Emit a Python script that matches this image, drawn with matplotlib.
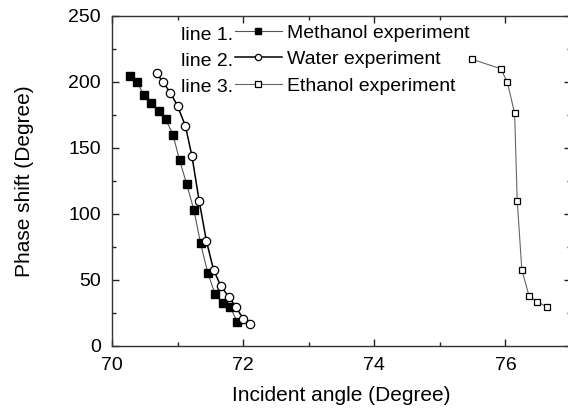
import matplotlib
matplotlib.use("Agg")
import matplotlib.pyplot as plt
from matplotlib.ticker import MultipleLocator

plt.rcParams['font.family'] = ['Liberation Sans', 'DejaVu Sans']

methanol_x = [70.27, 70.38, 70.49, 70.59, 70.71, 70.82, 70.93, 71.03,
              71.14, 71.25, 71.35, 71.46, 71.57, 71.69, 71.80, 71.91]
methanol_y = [204.5, 199.5, 189.7, 183.6, 177.5, 171.5, 159.8, 140.5,
              122.3, 102.6, 77.6, 55.3, 39.2, 32.1, 29.3, 18.2]

water_x = [70.68, 70.78, 70.89, 71.00, 71.12, 71.22, 71.33, 71.44,
           71.55, 71.66, 71.78, 71.89, 72.00, 72.11]
water_y = [206.4, 199.5, 191.7, 181.6, 166.4, 143.5, 109.4, 79.3,
           57.3, 45.2, 37.1, 29.3, 20.5, 16.2]

ethanol_x = [75.49, 75.93, 76.03, 76.14, 76.18, 76.25, 76.36, 76.48, 76.63]
ethanol_y = [217.0, 209.8, 199.5, 176.1, 109.6, 57.6, 37.7, 33.3, 29.5]

line_tags = ['line 1.', 'line 2.', 'line 3.']
names = ['Methanol experiment', 'Water experiment', 'Ethanol experiment']

W, H = 568, 408
fig = plt.figure(figsize=(W / 100, H / 100), dpi=100)
ax = fig.add_axes([112 / W, 1 - 345.7 / H, (571 - 112) / W, 330 / H])

l1, = ax.plot(methanol_x, methanol_y, '-', color='#555555', lw=0.8,
              marker='s', ms=5.3, mfc='black', mec='black')
l2, = ax.plot(water_x, water_y, '-', color='black', lw=1.1,
              marker='o', ms=6, mfc='white', mec='black', mew=0.9)
l3, = ax.plot(ethanol_x, ethanol_y, '-', color='#666666', lw=0.8,
              marker='s', ms=5, mfc='white', mec='black', mew=0.9)

ax.set_xlim(70, 77)
ax.set_ylim(0, 250)
ax.xaxis.set_major_locator(MultipleLocator(2))
ax.xaxis.set_minor_locator(MultipleLocator(1))
ax.yaxis.set_major_locator(MultipleLocator(50))
ax.yaxis.set_minor_locator(MultipleLocator(25))
ax.tick_params(which='both', direction='in', top=True, right=True,
               labelsize=14, color='#222222')
ax.tick_params(which='major', length=5, width=1, pad=8)
ax.tick_params(which='minor', length=3, width=1)
for s in ax.spines.values():
    s.set_color('#333333')
    s.set_linewidth(1.0)

ax.set_xlabel('Incident angle (Degree)', fontsize=15, labelpad=9)
ax.set_ylabel('Phase shift (Degree)', fontsize=15, labelpad=25)

leg = ax.legend([l1, l2, l3], names, loc='upper left',
                bbox_to_anchor=(235 / W, 1 - 24 / H),
                bbox_transform=fig.transFigure, frameon=False,
                fontsize=14, borderpad=0, borderaxespad=0,
                handlelength=2.4, handletextpad=0.25, labelspacing=0.46,
                markerscale=0.75)
for i, tag in enumerate(line_tags):
    fig.text(233 / W, 1 - (36 + 26 * i) / H, tag, fontsize=14,
             ha='right', va='center')

fig.savefig('out.png', dpi=100)
